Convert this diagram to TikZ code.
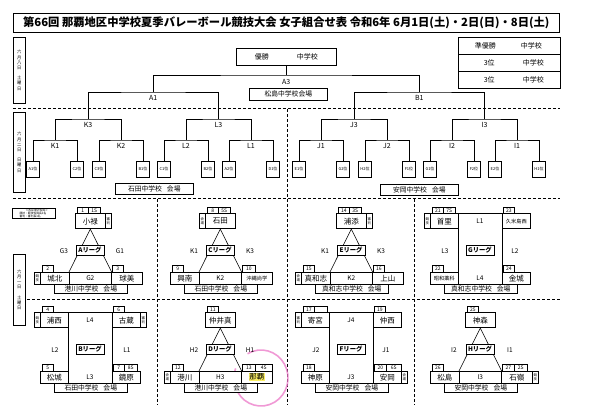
\documentclass[tikz,border=0pt]{standalone}
\usepackage{fontspec}
\setmainfont{Noto Sans CJK JP}
\usetikzlibrary{calc}
\definecolor{pinkmark}{RGB}{236,120,200}
\definecolor{hlyellow}{RGB}{250,238,100}
\tikzset{
  bx/.style={draw, line width=0.6pt, inner sep=0pt, anchor=north west, fill=white},
  tm/.style={bx, font=\fontsize{7.5}{8}\selectfont},
  tms/.style={bx, font=\fontsize{5.2}{6}\selectfont},
  nc/.style={bx, minimum height=6.5pt, font=\fontsize{5}{5}\selectfont},
  sd/.style={bx, minimum width=6pt, font=\fontsize{3.4}{3.8}\selectfont, align=center},
  lg/.style={draw, line width=0.8pt, inner sep=0pt, fill=white, minimum width=28pt, minimum height=10pt, font=\fontsize{6.3}{7}\bfseries\selectfont},
  lb/.style={inner sep=0pt, font=\fontsize{6.5}{7}\selectfont},
  vn/.style={bx, minimum width=73pt, minimum height=9pt, font=\fontsize{6.8}{7}\selectfont},
  lf/.style={draw, line width=0.6pt, inner sep=0pt, fill=white, minimum width=13pt, minimum height=16pt, font=\fontsize{4}{4}\selectfont},
  dsh/.style={dash pattern=on 3pt off 2pt, line width=0.6pt},
  ln/.style={line width=0.6pt},
  dt/.style={bx, minimum width=12pt, font=\fontsize{4.3}{5.2}\selectfont, align=center},
  bl/.style={inner sep=0pt, font=\fontsize{7}{7}\selectfont},
}
\begin{document}
\begin{tikzpicture}[x=1pt,y=-1pt]
\fill[white] (0,0) rectangle (595,419);
\useasboundingbox (0,0) rectangle (595,419);

% title
\node[bx, minimum width=546pt, minimum height=19pt, font=\fontsize{11.3}{12}\bfseries\selectfont] (title) at (13,13) {第66回 那覇地区中学校夏季バレーボール競技大会 女子組合せ表 令和6年 6月1日(土)・2日(日)・8日(土)};

% date boxes
\node[dt, minimum height=66pt] (d1) at (13,37) {六\\月\\八\\日\\[5pt]土\\曜\\日};
\node[dt, minimum height=80pt] (d2) at (13,112) {六\\月\\二\\日\\[5pt]日\\曜\\日};
\node[dt, minimum height=71pt] (d3) at (13,254) {六\\月\\一\\日\\[5pt]土\\曜\\日};

% separators
\draw[dsh] (13,108) -- (560,108);
\draw[dsh] (13,198) -- (560,198);
\draw[dsh] (27,299) -- (560,299);
\draw[dsh] (287,109) -- (287,197);
\draw[dsh] (157,199) -- (157,405);
\draw[dsh] (287,199) -- (287,405);
\draw[dsh] (414,199) -- (414,405);

% results box
\node[bx, minimum width=102pt, minimum height=17pt, font=\fontsize{7}{7}\selectfont] (ru) at (458,37) {\makebox[44pt]{準優勝}\makebox[48pt]{中学校}};
\node[bx, minimum width=102pt, minimum height=17pt, font=\fontsize{7}{7}\selectfont] (r3a) at (458,54) {\makebox[48pt]{3位}\makebox[40pt]{中学校}};
\node[bx, minimum width=102pt, minimum height=17pt, font=\fontsize{7}{7}\selectfont] (r3b) at (458,71) {\makebox[48pt]{3位}\makebox[40pt]{中学校}};

% champion
\node[draw, line width=0.6pt, inner sep=0pt, fill=white, minimum width=100pt, minimum height=17pt, font=\fontsize{7}{7}\selectfont] (champ) at (286.25,56.5) {優勝\hspace{28pt}中学校};

% bracket coordinates
\coordinate (cK1) at (55,140); \coordinate (cK2) at (121,140);
\coordinate (cL2) at (186,140); \coordinate (cL1) at (251,140);
\coordinate (cK3) at (88,119); \coordinate (cL3) at (218.5,119);
\coordinate (cA1) at (153.25,92);
\coordinate (cJ1) at (321,140); \coordinate (cJ2) at (387,140);
\coordinate (cI2) at (452,140); \coordinate (cI1) at (517,140);
\coordinate (cJ3) at (354,119); \coordinate (cI3) at (484.5,119);
\coordinate (cB1) at (419.25,92);
\coordinate (cA3) at (286.25,75);

% leaves
\node[lf] (lA1) at (33,169) {A1位};
\node[lf] (lC2) at (77,169) {C2位};
\node[lf] (lC3) at (99,169) {C3位};
\node[lf] (lB1) at (143,169) {B1位};
\node[lf] (lC1) at (164,169) {C1位};
\node[lf] (lB2) at (208,169) {B2位};
\node[lf] (lA2) at (229,169) {A2位};
\node[lf] (lD1) at (273,169) {D1位};
\node[lf] (lE1) at (299,169) {E1位};
\node[lf] (lG2) at (343,169) {G2位};
\node[lf] (lH2) at (365,169) {H2位};
\node[lf] (lF1) at (409,169) {F1位};
\node[lf] (lG1) at (430,169) {G1位};
\node[lf] (lF2) at (474,169) {F2位};
\node[lf] (lE2) at (495,169) {E2位};
\node[lf] (lH1) at (539,169) {H1位};

\draw[ln] (lA1.north) |- (cK1) -| (lC2.north);
\draw[ln] (lC3.north) |- (cK2) -| (lB1.north);
\draw[ln] (lC1.north) |- (cL2) -| (lB2.north);
\draw[ln] (lA2.north) |- (cL1) -| (lD1.north);
\draw[ln] (lE1.north) |- (cJ1) -| (lG2.north);
\draw[ln] (lH2.north) |- (cJ2) -| (lF1.north);
\draw[ln] (lG1.north) |- (cI2) -| (lF2.north);
\draw[ln] (lE2.north) |- (cI1) -| (lH1.north);
\draw[ln] (cK1) |- (cK3) -| (cK2);
\draw[ln] (cL2) |- (cL3) -| (cL1);
\draw[ln] (cJ1) |- (cJ3) -| (cJ2);
\draw[ln] (cI2) |- (cI3) -| (cI1);
\draw[ln] (cK3) |- (cA1) -| (cL3);
\draw[ln] (cJ3) |- (cB1) -| (cI3);
\draw[ln] (cA1) |- (cA3) -| (cB1);
\draw[ln] (cA3) -- (champ.south);

\node[bl] (tK1) at ($(cK1)+(0,6)$) {K1};
\node[bl] (tK2) at ($(cK2)+(0,6)$) {K2};
\node[bl] (tL2) at ($(cL2)+(0,6)$) {L2};
\node[bl] (tL1) at ($(cL1)+(0,6)$) {L1};
\node[bl] (tJ1) at ($(cJ1)+(0,6)$) {J1};
\node[bl] (tJ2) at ($(cJ2)+(0,6)$) {J2};
\node[bl] (tI2) at ($(cI2)+(0,6)$) {I2};
\node[bl] (tI1) at ($(cI1)+(0,6)$) {I1};
\node[bl] (tK3) at ($(cK3)+(0,6)$) {K3};
\node[bl] (tL3) at ($(cL3)+(0,6)$) {L3};
\node[bl] (tJ3) at ($(cJ3)+(0,6)$) {J3};
\node[bl] (tI3) at ($(cI3)+(0,6)$) {I3};
\node[bl] (tA1) at ($(cA1)+(0,6)$) {A1};
\node[bl] (tB1) at ($(cB1)+(0,6)$) {B1};
\node[bl] (tA3) at ($(cA3)+(0,6.5)$) {A3};

\node[bx, minimum width=78pt, minimum height=12pt, font=\fontsize{6.8}{7}\selectfont] (vMa) at (249,88) {松島中学校会場};
\node[bx, minimum width=78pt, minimum height=11pt, font=\fontsize{6.8}{7}\selectfont] (vIs) at (115,183) {石田中学校\hspace{5pt}会場};
\node[bx, minimum width=78pt, minimum height=11pt, font=\fontsize{6.8}{7}\selectfont] (vYa) at (380,184) {安岡中学校\hspace{5pt}会場};

% legend
\node[bx, minimum width=43pt, minimum height=10pt, font=\fontsize{2.8}{3.1}\selectfont, align=left] (leg) at (12,208) {\hspace{6pt}＜各会場の役員＞\\競技：競技役員長1名\\審判：審判長1名};

% ---------- Panel A (triangle) ----------
\begin{scope}[shift={(90,207)}]
\node[nc, minimum width=11pt] (An1) at (-13,0) {1};
\node[nc, minimum width=12pt] (An2) at (-2,0) {1S};
\node[tm, minimum width=30pt, minimum height=15pt] (At) at (-15,6.5) {小禄};
\node[sd, minimum height=15pt] (As1) at (15,6.5) {審\\判};
\node[tm, minimum width=29pt, minimum height=12pt] (Al) at (-50,65) {城北};
\node[bx, lb, minimum width=42pt, minimum height=12pt] (Am) at (-21,65) {G2};
\node[tm, minimum width=31pt, minimum height=12pt] (Ar) at (21,65) {球美};
\node[nc, minimum width=11pt] (An3) at (-48,58.5) {2};
\node[nc, minimum width=11pt] (An4) at (22,58.5) {3};
\node[sd, minimum height=12pt] (As2) at (-56,65) {競\\技};
\node[vn] (Av) at (-36,77) {港川中学校\hspace{5pt}会場};
\draw[ln] (At.south) -- (Am.north west) (At.south) -- (Am.north east);
\node[lg] (Ag) at (0,43.5) {Aリーグ};
\node[lb] (Ax1) at (-26,44) {G3};
\node[lb] (Ax2) at (30,44) {G1};
\end{scope}

% ---------- Panel C (triangle) ----------
\begin{scope}[shift={(220,207)}]
\node[nc, minimum width=11pt] (Cn1) at (-13,0) {8};
\node[nc, minimum width=12pt] (Cn2) at (-2,0) {5S};
\node[tm, minimum width=30pt, minimum height=15pt] (Ct) at (-15,6.5) {石田};
\node[sd, minimum height=15pt] (Cs1) at (-21,6.5) {会\\場};
\node[tm, minimum width=29pt, minimum height=12pt] (Cl) at (-50,65) {興南};
\node[bx, lb, minimum width=42pt, minimum height=12pt] (Cm) at (-21,65) {K2};
\node[tms, minimum width=31pt, minimum height=12pt] (Cr) at (21,65) {沖縄尚学};
\node[nc, minimum width=11pt] (Cn3) at (-48,58.5) {9};
\node[nc, minimum width=13pt] (Cn4) at (22,58.5) {10};
\node[vn] (Cv) at (-36,77) {石田中学校\hspace{5pt}会場};
\draw[ln] (Ct.south) -- (Cm.north west) (Ct.south) -- (Cm.north east);
\node[lg] (Cg) at (0,43.5) {Cリーグ};
\node[lb] (Cx1) at (-26,44) {K1};
\node[lb] (Cx2) at (30,44) {K3};
\end{scope}

% ---------- Panel E (triangle) ----------
\begin{scope}[shift={(351,207)}]
\node[nc, minimum width=11pt] (En1) at (-13,0) {14};
\node[nc, minimum width=12pt] (En2) at (-2,0) {3S};
\node[tm, minimum width=30pt, minimum height=15pt] (Et) at (-15,6.5) {浦添};
\node[sd, minimum height=15pt] (Es1) at (15,6.5) {審\\判};
\node[tm, minimum width=29pt, minimum height=12pt] (El) at (-50,65) {真和志};
\node[bx, lb, minimum width=42pt, minimum height=12pt] (Em) at (-21,65) {K2};
\node[tm, minimum width=31pt, minimum height=12pt] (Er) at (21,65) {上山};
\node[nc, minimum width=11pt] (En3) at (-48,58.5) {15};
\node[nc, minimum width=11pt] (En4) at (22,58.5) {16};
\node[sd, minimum height=12pt] (Es2) at (-56,65) {会\\場};
\node[vn] (Ev) at (-36,77) {真和志中学校\hspace{5pt}会場};
\draw[ln] (Et.south) -- (Em.north west) (Et.south) -- (Em.north east);
\node[lg] (Eg) at (0,43.5) {Eリーグ};
\node[lb] (Ex1) at (-26,44) {K1};
\node[lb] (Ex2) at (30,44) {K3};
\end{scope}

% ---------- Panel G (square) ----------
\begin{scope}[shift={(480,207)}]
\node[nc, minimum width=11pt] (Gn1) at (-48,0) {21};
\node[nc, minimum width=12pt] (Gn2) at (-37,0) {7S};
\node[nc, minimum width=11pt] (Gn3) at (23,0) {23};
\node[tm, minimum width=28pt, minimum height=15pt] (Gtl) at (-50,6.5) {首里};
\node[sd, minimum height=15pt] (Gs1) at (-56,6.5) {競\\技};
\node[tms, minimum width=28pt, minimum height=15pt] (Gtr) at (22,6.5) {久米島西};
\node[nc, minimum width=11pt] (Gn4) at (-48,58.5) {22};
\node[nc, minimum width=11pt] (Gn5) at (23,58.5) {24};
\node[tms, minimum width=28pt, minimum height=12pt] (Gbl) at (-50,65) {昭和薬科};
\node[tm, minimum width=28pt, minimum height=12pt] (Gbr) at (22,65) {金城};
\draw[ln] (Gtl.north east) -- (Gtr.north west) (Gbl.south east) -- (Gbr.south west) (Gtl.south east) -- (Gbl.north east) (Gtr.south west) -- (Gbr.north west);
\node[vn] (Gv) at (-36,77) {真和志中学校\hspace{5pt}会場};
\node[lg] (Gg) at (0,43.5) {Gリーグ};
\node[lb] (Gx1) at (0,14) {L1};
\node[lb] (Gx2) at (0,71) {L4};
\node[lb] (Gx3) at (-35,44) {L3};
\node[lb] (Gx4) at (35,44) {L2};
\end{scope}

% ---------- Panel B (square) ----------
\begin{scope}[shift={(90,306)}]
\node[nc, minimum width=11pt] (Bn1) at (-48,0) {4};
\node[nc, minimum width=11pt] (Bn2) at (23,0) {6};
\node[tm, minimum width=28pt, minimum height=15pt] (Btl) at (-50,6.5) {浦西};
\node[sd, minimum height=15pt] (Bs1) at (-56,6.5) {競\\技};
\node[tm, minimum width=28pt, minimum height=15pt] (Btr) at (22,6.5) {古蔵};
\node[sd, minimum height=15pt] (Bs2) at (50,6.5) {審\\判};
\node[nc, minimum width=11pt] (Bn3) at (-48,58.5) {5};
\node[nc, minimum width=11pt] (Bn4) at (23,58.5) {7};
\node[nc, minimum width=13pt] (Bn5) at (34,58.5) {8S};
\node[tm, minimum width=28pt, minimum height=12pt] (Bbl) at (-50,65) {松城};
\node[tm, minimum width=28pt, minimum height=12pt] (Bbr) at (22,65) {鏡原};
\draw[ln] (Btl.north east) -- (Btr.north west) (Bbl.south east) -- (Bbr.south west) (Btl.south east) -- (Bbl.north east) (Btr.south west) -- (Bbr.north west);
\node[vn] (Bv) at (-36,77) {石田中学校\hspace{5pt}会場};
\node[lg] (Bg) at (0,43.5) {Bリーグ};
\node[lb] (Bx1) at (0,14) {L4};
\node[lb] (Bx2) at (0,71) {L3};
\node[lb] (Bx3) at (-35,44) {L2};
\node[lb] (Bx4) at (37,44) {L1};
\end{scope}

% ---------- Panel D (triangle) ----------
\begin{scope}[shift={(220,306)}]
\draw[pinkmark, line width=1.6pt, opacity=0.75] ($(41,72)+(240:27 and 28)$) arc[start angle=240, end angle=560, x radius=27, y radius=28];
\node[nc, minimum width=11pt] (Dn1) at (-13,0) {11};
\node[tm, minimum width=30pt, minimum height=15pt] (Dt) at (-15,6.5) {仲井真};
\node[tm, minimum width=29pt, minimum height=12pt] (Dl) at (-50,65) {港川};
\node[bx, lb, minimum width=42pt, minimum height=12pt] (Dm) at (-21,65) {H3};
\node[tm, minimum width=31pt, minimum height=12pt] (Dr) at (21,65) {{\setlength{\fboxsep}{0.8pt}\colorbox{hlyellow}{那覇}}};
\node[nc, minimum width=11pt] (Dn3) at (-48,58.5) {12};
\node[nc, minimum width=13pt] (Dn4) at (22,58.5) {13};
\node[nc, minimum width=17pt] (Dn5) at (35,58.5) {4S};
\node[sd, minimum height=12pt] (Ds2) at (-56,65) {会\\場};
\node[vn] (Dv) at (-36,77) {港川中学校\hspace{5pt}会場};
\draw[ln] (Dt.south) -- (Dm.north west) (Dt.south) -- (Dm.north east);
\node[lg] (Dg) at (0,43.5) {Dリーグ};
\node[lb] (Dx1) at (-26,44) {H2};
\node[lb] (Dx2) at (30,44) {H1};
\end{scope}

% ---------- Panel F (square) ----------
\begin{scope}[shift={(351,306)}]
\node[nc, minimum width=11pt] (Fn1) at (-48,0) {17};
\node[nc, minimum width=13pt] (Fn2) at (-37,0) {};
\node[nc, minimum width=11pt] (Fn3) at (23,0) {19};
\node[tm, minimum width=28pt, minimum height=15pt] (Ftl) at (-50,6.5) {寄宮};
\node[sd, minimum height=15pt] (Fs1) at (-56,6.5) {審\\判};
\node[tm, minimum width=28pt, minimum height=15pt] (Ftr) at (22,6.5) {仲西};
\node[nc, minimum width=11pt] (Fn4) at (-48,58.5) {18};
\node[nc, minimum width=12pt] (Fn5) at (23,58.5) {20};
\node[nc, minimum width=15pt] (Fn6) at (35,58.5) {6S};
\node[tm, minimum width=28pt, minimum height=12pt] (Fbl) at (-50,65) {神原};
\node[tm, minimum width=28pt, minimum height=12pt] (Fbr) at (22,65) {安岡};
\node[sd, minimum height=12pt] (Fs2) at (50,65) {会\\場};
\draw[ln] (Ftl.north east) -- (Ftr.north west) (Fbl.south east) -- (Fbr.south west) (Ftl.south east) -- (Fbl.north east) (Ftr.south west) -- (Fbr.north west);
\node[vn] (Fv) at (-36,77) {安岡中学校\hspace{5pt}会場};
\node[lg] (Fg) at (0,43.5) {Fリーグ};
\node[lb] (Fx1) at (0,14) {J4};
\node[lb] (Fx2) at (0,71) {J3};
\node[lb] (Fx3) at (-35,44) {J2};
\node[lb] (Fx4) at (35,44) {J1};
\end{scope}

% ---------- Panel H (triangle) ----------
\begin{scope}[shift={(480,306)}]
\node[nc, minimum width=11pt] (Hn1) at (-13,0) {25};
\node[tm, minimum width=30pt, minimum height=15pt] (Ht) at (-15,6.5) {神森};
\node[tm, minimum width=29pt, minimum height=12pt] (Hl) at (-50,65) {松島};
\node[bx, lb, minimum width=42pt, minimum height=12pt] (Hm) at (-21,65) {I3};
\node[tm, minimum width=31pt, minimum height=12pt] (Hr) at (21,65) {石嶺};
\node[nc, minimum width=11pt] (Hn3) at (-48,58.5) {26};
\node[nc, minimum width=12pt] (Hn4) at (22,58.5) {27};
\node[nc, minimum width=13pt] (Hn5) at (34,58.5) {2S};
\node[sd, minimum height=12pt] (Hs2) at (52,65) {競\\技};
\node[vn] (Hv) at (-36,77) {安岡中学校\hspace{5pt}会場};
\draw[ln] (Ht.south) -- (Hm.north west) (Ht.south) -- (Hm.north east);
\node[lg] (Hg) at (0,43.5) {Hリーグ};
\node[lb] (Hx1) at (-26,44) {I2};
\node[lb] (Hx2) at (30,44) {I1};
\end{scope}
\end{tikzpicture}
\end{document}
